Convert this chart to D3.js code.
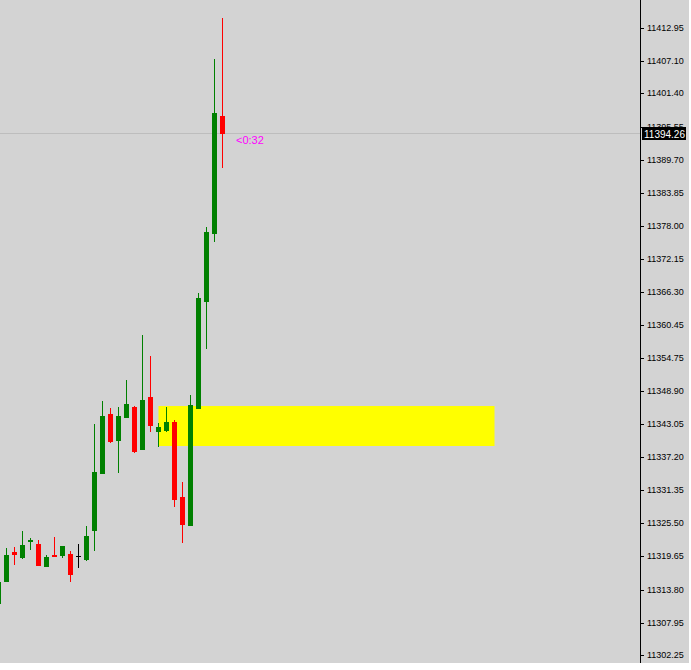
<!DOCTYPE html>
<html>
<head>
<meta charset="utf-8">
<script src="https://cdn.jsdelivr.net/npm/d3@7"></script>
<style>
  html, body { margin: 0; padding: 0; background: #ffffff; }
  svg { display: block; }
</style>
</head>
<body>
<svg id="chart" width="691" height="670"></svg>
<script>
// ---- data ----
const opens  = [11311.26, 11315.14, 11320.44, 11319.38, 11322.20, 11321.85, 11317.79, 11319.91, 11319.73, 11320.09,
                11319.73, 11319.03, 11324.15, 11334.21, 11344.80, 11340.03, 11344.10, 11346.04, 11338.45, 11347.80,
                11341.62, 11341.80, 11343.39, 11330.15, 11325.03, 11345.68, 11364.58, 11376.58, 11397.41];
const highs  = [11315.14, 11321.14, 11321.32, 11324.15, 11322.91, 11322.56, 11319.91, 11323.09, 11321.50, 11320.61,
                11321.85, 11325.03, 11343.04, 11347.10, 11345.86, 11346.04, 11350.80, 11346.21, 11358.75, 11355.04,
                11343.21, 11346.04, 11343.74, 11332.80, 11348.16, 11366.16, 11377.82, 11407.48, 11414.72];
const lows   = [11311.26, 11315.14, 11318.14, 11319.20, 11320.79, 11317.97, 11317.79, 11319.56, 11319.38, 11315.14,
                11317.61, 11318.85, 11320.61, 11334.21, 11339.68, 11334.39, 11344.10, 11337.92, 11338.45, 11341.62,
                11338.98, 11341.62, 11328.38, 11322.03, 11325.03, 11345.68, 11356.28, 11375.17, 11388.23];
const closes = [11315.14, 11319.91, 11319.91, 11321.67, 11322.56, 11317.97, 11319.56, 11319.56, 11321.50, 11316.38,
                11319.73, 11323.26, 11334.56, 11344.45, 11339.86, 11344.45, 11346.57, 11338.09, 11347.27, 11342.68,
                11342.51, 11343.39, 11329.62, 11325.21, 11346.39, 11365.28, 11376.93, 11397.94, 11394.26];
const tickLabels = ["11412.95", "11407.10", "11401.40", "11395.55", "11389.70", "11383.85", "11378.00",
                    "11372.15", "11366.30", "11360.45", "11354.75", "11348.90", "11343.05", "11337.20",
                    "11331.35", "11325.50", "11319.65", "11313.80", "11307.95", "11302.25"];
const currentPrice = 11394.26;
const timerText = "<0:32";
const zoneTop = 11346.21, zoneBottom = 11339.15;
const zoneStartIndex = 20, zoneEndIndex = 62;

// ---- layout ----
const plotW = 640, plotH = 663, bgW = 689;
const bodyW = 5;

const svg = d3.select("#chart");
const y = d3.scaleLinear().domain([11302.25, 11412.95]).range([655, 28]);
const x = d3.scaleLinear().domain([0, 28]).range([-1.5, 222.5]); // bar centers

svg.append("rect").attr("x", 0).attr("y", 0).attr("width", bgW).attr("height", plotH).attr("fill", "#d3d3d3");

const plot = svg.append("g");

// zone
plot.append("rect")
  .attr("x", x(zoneStartIndex))
  .attr("y", y(zoneTop))
  .attr("width", x(zoneEndIndex) - x(zoneStartIndex))
  .attr("height", y(zoneBottom) - y(zoneTop))
  .attr("fill", "#ffff00");

// current price line
plot.append("line")
  .attr("x1", 0).attr("x2", plotW)
  .attr("y1", Math.round(y(currentPrice)) - 0.5).attr("y2", Math.round(y(currentPrice)) - 0.5)
  .attr("stroke", "#bdbdbd").attr("stroke-width", 1);

const candles = opens.map((o, i) => ({i, o, h: highs[i], l: lows[i], c: closes[i]}));
const colorOf = d => d.c > d.o ? "#008000" : (d.c < d.o ? "#ff0000" : "#000000");

const cg = plot.selectAll("g.candle").data(candles).join("g").attr("class", "candle");
cg.append("rect")
  .attr("x", d => Math.round(x(d.i) - 0.5))
  .attr("y", d => Math.round(y(d.h)))
  .attr("width", 1)
  .attr("height", d => Math.max(1, Math.round(y(d.l)) - Math.round(y(d.h))))
  .attr("fill", colorOf);
cg.append("rect")
  .attr("x", d => Math.round(x(d.i) - bodyW / 2))
  .attr("y", d => Math.round(y(Math.max(d.o, d.c))))
  .attr("width", bodyW)
  .attr("height", d => Math.max(1, Math.round(y(Math.min(d.o, d.c))) - Math.round(y(Math.max(d.o, d.c)))))
  .attr("fill", colorOf);

// timer text
const last = candles[candles.length - 1];
svg.append("text")
  .attr("x", x(last.i) + 13.5)
  .attr("y", y(currentPrice) + 10.5)
  .attr("fill", "#ff00ff")
  .attr("font-family", "Liberation Sans, Arial, sans-serif")
  .attr("font-size", 11)
  .text(timerText);

// axis
svg.append("line").attr("x1", plotW + 0.5).attr("x2", plotW + 0.5).attr("y1", 0).attr("y2", plotH)
  .attr("stroke", "#000").attr("stroke-width", 1);

const ticks = svg.append("g").selectAll("g").data(tickLabels).join("g")
  .attr("transform", d => `translate(0,${Math.round(y(+d))})`);
ticks.append("line").attr("x1", plotW + 1).attr("x2", plotW + 4).attr("y1", 0.5).attr("y2", 0.5)
  .attr("stroke", "#000");
ticks.append("text")
  .attr("x", plotW + 7).attr("y", 0).attr("dy", "0.35em")
  .attr("font-family", "Liberation Sans, Arial, sans-serif")
  .attr("font-size", 9)
  .attr("fill", "#000")
  .text(d => d);

// current price label
const cy = Math.round(y(currentPrice));
svg.append("rect").attr("x", plotW + 2).attr("y", cy - 7).attr("width", 44).attr("height", 13).attr("fill", "#000");
svg.append("text")
  .attr("x", plotW + 4).attr("y", cy).attr("dy", "0.35em")
  .attr("font-family", "Liberation Sans, Arial, sans-serif")
  .attr("font-size", 10)
  .attr("fill", "#fff")
  .text(currentPrice.toFixed(2));
</script>
</body>
</html>
